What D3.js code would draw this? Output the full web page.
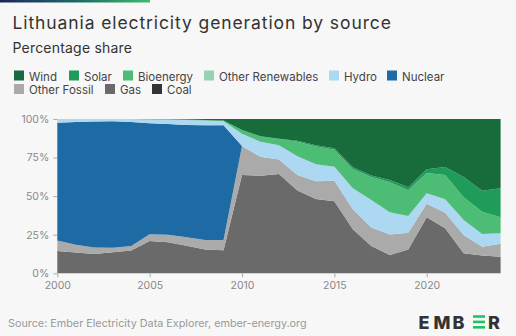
<!DOCTYPE html>
<html>
<head>
<meta charset="utf-8">
<script src="https://cdn.jsdelivr.net/npm/d3@7"></script>
<style>
  html, body { margin: 0; padding: 0; background: #f7f7f7; }
  svg { display: block; font-family: Inter, "Noto Sans", sans-serif; }
</style>
</head>
<body>
<svg id="chart" width="516" height="336"></svg>
<script>
const years = [2000,2001,2002,2003,2004,2005,2006,2007,2008,2009,2010,2011,2012,2013,2014,2015,2016,2017,2018,2019,2020,2021,2022,2023,2024];
const coal        = [0,0,0,0,0,0,0,0,0,0,0,0,0,0,0,0,0,0,0,0,0,0,0,0,0];
const gas         = [14.5,13.4,12.5,13.6,14.8,20.9,20.1,17.9,15.5,15.0,63.7,63.3,64.4,53.7,48.2,46.7,28.6,17.7,11.9,15.4,36.3,29.2,13.0,11.6,10.8];
const otherFossil = [6.8,5.1,4.2,3.0,2.9,4.4,4.9,5.4,6.1,6.6,18.8,12.2,9.4,10.0,11.5,13.2,12.9,12.0,13.2,10.9,8.8,10.1,11.8,5.6,8.4];
const nuclear     = [76.3,79.5,81.6,81.9,80.3,71.9,71.8,72.8,74.4,74.4,0,0,0,0,0,0,0,0,0,0,0,0,0,0,0];
const hydro       = [2.4,2.0,1.7,1.5,2.0,2.6,2.8,3.2,3.0,2.5,8.0,9.7,9.2,12.1,11.0,9.2,13.6,17.8,14.5,10.8,6.7,8.7,9.7,8.3,6.7];
const otherRenew  = [0,0,0,0,0,0,0,0,0,0,0,0,0,0,0,0,0,0,0,0,0,0,0,0,0];
const bioenergy   = [0,0,0,0,0,0.1,0.2,0.3,0.4,0.6,2.3,3.6,4.0,9.5,11.5,11.0,12.4,14.9,19.4,16.7,13.2,15.7,14.8,14.4,10.4];
const solar       = [0,0,0,0,0,0,0,0,0,0,0,0,0.2,0.6,0.8,1.0,1.2,1.0,1.5,2.0,2.4,5.2,13.1,13.6,18.8];
const wind        = [0,0,0,0,0,0.1,0.2,0.4,0.6,0.9,7.2,11.2,12.8,14.1,17.0,18.9,31.3,36.6,39.5,44.2,32.6,31.1,37.6,46.5,44.9];

const seriesNames = ["Coal","Gas","Other Fossil","Nuclear","Hydro","Other Renewables","Bioenergy","Solar","Wind"];
const seriesValues = [coal, gas, otherFossil, nuclear, hydro, otherRenew, bioenergy, solar, wind];
const colors = {
  "Wind":"#186b3b","Solar":"#1f9c5a","Bioenergy":"#4dbd76","Other Renewables":"#95d4b1",
  "Hydro":"#acd8f2","Nuclear":"#1d6aa5","Other Fossil":"#aaaaaa","Gas":"#6a6a6a","Coal":"#333333"
};
const legendRow1 = ["Wind","Solar","Bioenergy","Other Renewables","Hydro","Nuclear"];
const legendRow2 = ["Other Fossil","Gas","Coal"];
const yTicks = [0, 0.25, 0.5, 0.75, 1];
const xTicks = [2000, 2005, 2010, 2015, 2020];

const table = years.map((yr, i) => {
  const row = { year: yr };
  seriesNames.forEach((n, k) => row[n] = seriesValues[k][i]);
  return row;
});

const svg = d3.select("#chart");

// top gradient bar
const defs = svg.append("defs");
const grad = defs.append("linearGradient").attr("id","topgrad");
grad.append("stop").attr("offset","0%").attr("stop-color","#1b2857");
grad.append("stop").attr("offset","55%").attr("stop-color","#1f6f6a");
grad.append("stop").attr("offset","100%").attr("stop-color","#3dbb6b");
svg.append("rect").attr("x",0).attr("y",0).attr("width",150).attr("height",2.5).attr("fill","url(#topgrad)");

svg.append("text").attr("x",12.5).attr("y",28.5).attr("font-size",17.5).attr("letter-spacing",0.9).attr("fill","#333")
  .text("Lithuania electricity generation by source");
svg.append("text").attr("x",12.5).attr("y",53).attr("font-size",14).attr("letter-spacing",0.2).attr("fill","#333")
  .text("Percentage share");

// legend
function legendRow(names, xs, yBox, yText) {
  names.forEach((n, i) => {
    svg.append("rect").attr("x", xs[i]).attr("y", yBox).attr("width",10).attr("height",10).attr("fill", colors[n]);
    svg.append("text").attr("x", xs[i] + 15).attr("y", yText).attr("font-size",11.5).attr("fill","#444").text(n);
  });
}
legendRow(legendRow1, [14,69,123,204,329,387], 70.5, 80.5);
legendRow(legendRow2, [14,105,152], 84, 94);

const margin = { left: 57.3, right: 500.6, top: 119, bottom: 273.3 };
const x = d3.scaleLinear().domain([2000, 2024]).range([margin.left, margin.right]);
const y = d3.scaleLinear().domain([0, 1]).range([margin.bottom, margin.top]);

const stack = d3.stack().keys(seriesNames).offset(d3.stackOffsetExpand);
const layers = stack(table);
const area = d3.area().x(d => x(d.data.year)).y0(d => y(d[0])).y1(d => y(d[1]));

svg.append("g").selectAll("path").data(layers).join("path")
  .attr("d", area).attr("fill", d => colors[d.key]);

const yAxis = d3.axisLeft(y).tickValues(yTicks).tickSize(4).tickPadding(4)
  .tickFormat(d3.format(".0%"));
const gy = svg.append("g").attr("transform", `translate(${margin.left},0)`).call(yAxis);
gy.select(".domain").remove();
gy.selectAll("line").attr("stroke","#aaa");
gy.selectAll("text").attr("fill","#888").attr("font-size",10.5).attr("font-family","Inter, sans-serif");

const xAxis = d3.axisBottom(x).tickValues(xTicks).tickSize(4).tickPadding(4).tickFormat(d3.format("d"));
const gx = svg.append("g").attr("transform", `translate(0,${margin.bottom})`).call(xAxis);
gx.select(".domain").remove();
gx.selectAll("line").attr("stroke","#aaa");
gx.selectAll("text").attr("fill","#888").attr("font-size",10.5).attr("font-family","Inter, sans-serif");

svg.append("text").attr("x",8).attr("y",326.5).attr("font-size",10.8).attr("fill","#999")
  .text("Source: Ember Electricity Data Explorer, ember-energy.org");

// EMBER logo
const logo = svg.append("g").attr("font-family","Inter, Lato, sans-serif").attr("font-weight",800)
  .attr("font-size",18).attr("fill","#333");
[["E",418.5],["M",433.5],["B",452.5],["R",488]].forEach(([ch, xx]) => {
  logo.append("text").attr("x",xx).attr("y",328.5).text(ch);
});
[315.2, 320.6, 326].forEach(yy => {
  logo.append("rect").attr("x",473).attr("y",yy).attr("width",12).attr("height",2.6).attr("fill","#22c069");
});
</script>
</body>
</html>
